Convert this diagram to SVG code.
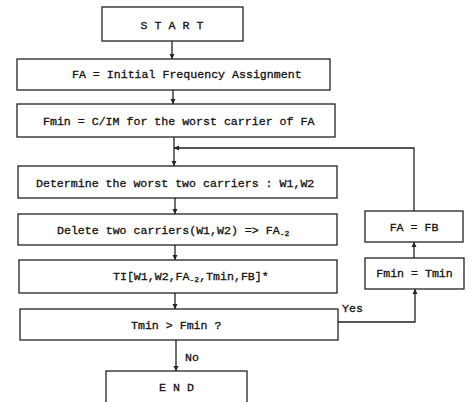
<svg xmlns="http://www.w3.org/2000/svg" width="474" height="402" viewBox="0 0 474 402">
<style>
.box{fill:#fff;stroke:#222;stroke-width:1.3}
.t{font-family:"Liberation Mono","DejaVu Sans Mono",monospace;font-size:11.6px;fill:#111;stroke:#111;stroke-width:0.3}
.c{text-anchor:middle}
.ln{fill:none;stroke:#222;stroke-width:1.3}
.sub{font-size:8px}
</style>
<defs>
<marker id="ah" viewBox="0 0 6 6" refX="6" refY="3" markerWidth="5" markerHeight="6" orient="auto" markerUnits="userSpaceOnUse">
<path d="M0,0 L6,3 L0,6 z" fill="#222"/>
</marker>
</defs>
<rect width="474" height="402" fill="#fff"/>
<g id="connectors">
<line class="ln" x1="172" y1="41" x2="172" y2="59" marker-end="url(#ah)"/>
<line class="ln" x1="173" y1="90" x2="173" y2="104" marker-end="url(#ah)"/>
<line class="ln" x1="174" y1="137" x2="174" y2="166" marker-end="url(#ah)"/>
<polyline class="ln" points="414,211 414,148 174,148" marker-end="url(#ah)"/>
<line class="ln" x1="175" y1="198" x2="175" y2="214" marker-end="url(#ah)"/>
<line class="ln" x1="175" y1="245" x2="175" y2="260" marker-end="url(#ah)"/>
<line class="ln" x1="175" y1="293" x2="175" y2="309" marker-end="url(#ah)"/>
<line class="ln" x1="176" y1="340" x2="176" y2="371" marker-end="url(#ah)"/>
<polyline class="ln" points="338,322 415,322 415,289" marker-end="url(#ah)"/>
<line class="ln" x1="414" y1="258" x2="414" y2="242" marker-end="url(#ah)"/>
<text class="t" x="342" y="312">Yes</text>
<text class="t" x="185" y="361">No</text>
</g>
<g id="start">
<rect class="box" x="102" y="7" width="141" height="34"/>
<text class="t" x="175.5" y="29" text-anchor="middle" letter-spacing="7">START</text>
</g>
<g id="init">
<rect class="box" x="17" y="59" width="313" height="31"/>
<text class="t" x="72" y="78">FA = Initial Frequency Assignment</text>
</g>
<g id="fmin">
<rect class="box" x="17" y="104" width="318" height="33"/>
<text class="t" x="43" y="125">Fmin = C/IM for the worst carrier of FA</text>
</g>
<g id="determine">
<rect class="box" x="18" y="166" width="319" height="32"/>
<text class="t" x="36" y="187">Determine the worst two carriers : W1,W2</text>
</g>
<g id="delete">
<rect class="box" x="18" y="214" width="319" height="31"/>
<text class="t" x="57" y="234">Delete two carriers(W1,W2) =&gt; FA<tspan class="sub" dy="2">-2</tspan></text>
</g>
<g id="ti">
<rect class="box" x="19" y="260" width="318" height="33"/>
<text class="t" x="113" y="280">TI[W1,W2,FA<tspan class="sub" dy="2">-2</tspan><tspan dy="-2">,Tmin,FB]*</tspan></text>
</g>
<g id="decision">
<rect class="box" x="20" y="309" width="318" height="31"/>
<text class="t" x="131" y="329">Tmin &gt; Fmin ?</text>
</g>
<g id="end">
<rect class="box" x="106" y="371" width="141" height="40"/>
<text class="t" x="180" y="391" text-anchor="middle" letter-spacing="7">END</text>
</g>
<g id="fafb">
<rect class="box" x="365" y="211" width="98" height="31"/>
<text class="t c" x="414" y="231">FA = FB</text>
</g>
<g id="fmintmin">
<rect class="box" x="365" y="258" width="99" height="31"/>
<text class="t c" x="414.5" y="277">Fmin = Tmin</text>
</g>
</svg>
